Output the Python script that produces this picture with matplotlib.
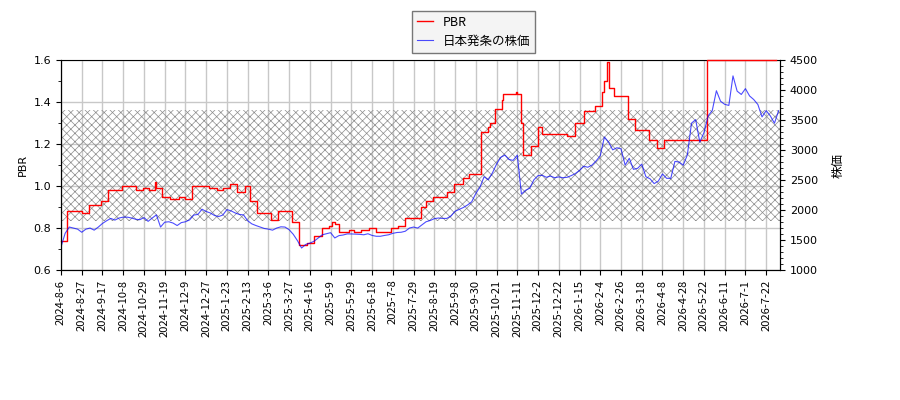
import matplotlib
matplotlib.use("Agg")
import matplotlib.pyplot as plt
from matplotlib.ticker import MultipleLocator
import numpy as np

plt.rcParams['font.family'] = ['DejaVu Sans', 'Noto Sans CJK JP']
plt.rcParams['hatch.linewidth'] = 0.5

# x axis is trading-day index, a label every 15 days
tick_labels = ["2024-8-6", "2024-8-27", "2024-9-17", "2024-10-8", "2024-10-29",
               "2024-11-19", "2024-12-9", "2024-12-27", "2025-1-23", "2025-2-13",
               "2025-3-6", "2025-3-27", "2025-4-16", "2025-5-9", "2025-5-29",
               "2025-6-18", "2025-7-8", "2025-7-29", "2025-8-19", "2025-9-8",
               "2025-9-30", "2025-10-21", "2025-11-11", "2025-12-2", "2025-12-22",
               "2026-1-15", "2026-2-4", "2026-2-26", "2026-3-18", "2026-4-8",
               "2026-4-28", "2026-5-22", "2026-6-11", "2026-7-1", "2026-7-22"]
tick_step = 15
last_day = 520

# stock price, one value every 3 trading days
price_step = 3
price = [1385, 1612, 1717, 1700, 1682, 1630, 1682, 1700, 1665, 1717,
         1777, 1822, 1861, 1833, 1868, 1882, 1882, 1868, 1847, 1840,
         1875, 1812, 1868, 1920, 1717, 1798, 1805, 1784, 1742, 1791,
         1805, 1836, 1917, 1927, 2015, 1976, 1952, 1910, 1892, 1917,
         2008, 1987, 1952, 1927, 1920, 1822, 1770, 1742, 1717, 1693,
         1682, 1665, 1700, 1721, 1717, 1672, 1595, 1490, 1367, 1427,
         1448, 1480, 1535, 1588, 1605, 1623, 1535, 1574, 1584, 1602,
         1602, 1598, 1595, 1588, 1605, 1577, 1563, 1563, 1577, 1588,
         1612, 1626, 1630, 1647, 1700, 1717, 1700, 1752, 1805, 1826,
         1857, 1868, 1861, 1861, 1900, 1980, 2011, 2043, 2085, 2137,
         2277, 2382, 2557, 2505, 2620, 2767, 2880, 2918, 2844, 2830,
         2918, 2267, 2330, 2365, 2505, 2575, 2582, 2547, 2568, 2540,
         2554, 2540, 2547, 2575, 2610, 2662, 2732, 2715, 2750, 2820,
         2907, 3220, 3135, 3005, 3040, 3023, 2750, 2865, 2680, 2697,
         2767, 2557, 2522, 2442, 2484, 2603, 2530, 2530, 2813, 2802,
         2750, 2921, 3450, 3510, 3135, 3292, 3572, 3660, 3992, 3817,
         3765, 3747, 4240, 3985, 3930, 4027, 3905, 3845, 3762, 3555,
         3660, 3572, 3450, 3660]

# PBR, day on which each level starts (last entry = end of series)
pbr_day = [0, 4, 15, 20, 29, 34, 44, 54, 59, 64, 68, 69, 73, 79, 85, 90, 95,
           107, 113, 117, 122, 127, 133, 137, 142, 152, 157, 167, 172, 178, 183,
           189, 194, 196, 198, 201, 208, 212, 217, 223, 228, 239, 244, 249, 260,
           264, 269, 279, 284, 291, 295, 304, 309, 310, 314, 319, 320, 329, 330,
           333, 334, 340, 345, 348, 366, 372, 378, 386, 391, 393, 395, 396, 400,
           410, 415, 425, 431, 436, 467, 517]
pbr = [0.74, 0.88, 0.87, 0.91, 0.93, 0.98, 1.00, 0.98, 0.99, 0.98, 1.02, 0.99,
       0.95, 0.94, 0.95, 0.94, 1.00, 0.99, 0.98, 0.99, 1.01, 0.97, 1.00, 0.93,
       0.87, 0.84, 0.88, 0.83, 0.72, 0.73, 0.76, 0.80, 0.81, 0.83, 0.82, 0.78,
       0.79, 0.78, 0.79, 0.80, 0.78, 0.80, 0.81, 0.85, 0.90, 0.93, 0.95, 0.97,
       1.01, 1.04, 1.06, 1.26, 1.28, 1.30, 1.37, 1.41, 1.44, 1.45, 1.44, 1.30,
       1.15, 1.19, 1.28, 1.25, 1.24, 1.30, 1.36, 1.38, 1.45, 1.50, 1.59, 1.47,
       1.43, 1.32, 1.27, 1.22, 1.18, 1.22, 1.60, 1.60]

# hatched PBR band
band_low = 0.835
band_high = 1.363

fig = plt.figure(figsize=(9, 4), dpi=100)
fig.subplots_adjust(left=61 / 900, right=780 / 900, top=1 - 60.3 / 400, bottom=1 - 270 / 400)
ax = fig.add_subplot(111)
ax2 = ax.twinx()

ax.fill_between([0, last_day], band_low, band_high, facecolor='none',
                edgecolor='#8c8c8c', hatch='xxxx', linewidth=0)
line_pbr, = ax.step(pbr_day, pbr, where='post', color='red', lw=1.0,
                    label='PBR', zorder=3, clip_on=False)
days = np.arange(len(price)) * price_step
line_price, = ax2.plot(days, price, color='blue', alpha=0.7, lw=0.8,
                       label='日本発条の株価')

ax.set_xlim(0, last_day)
ax.set_ylim(0.6, 1.6)
ax2.set_ylim(1000, 4500)
ax.yaxis.set_major_locator(MultipleLocator(0.2))
ax.yaxis.set_minor_locator(MultipleLocator(0.1))
ax2.yaxis.set_major_locator(MultipleLocator(500))
ax2.yaxis.set_minor_locator(MultipleLocator(100))

ax.set_xticks(np.arange(len(tick_labels)) * tick_step)
ax.set_xticklabels(tick_labels, rotation=90, fontsize=8, family=['Noto Sans CJK JP'])
ax.tick_params(axis='y', labelsize=8)
ax2.tick_params(axis='y', labelsize=8)
ax.grid(True, color='#c8c8c8', lw=1.0)
ax.set_axisbelow(True)
ax2.spines['top'].set_visible(False)

ax.set_ylabel('PBR', fontsize=8)
ax2.set_ylabel('株価', fontsize=9, labelpad=10)

leg = fig.legend(handles=[line_pbr, line_price], loc='upper left',
                 bbox_to_anchor=(411.5 / 900, 1 - 10.5 / 400), borderaxespad=0,
                 handlelength=1.3, fancybox=False,
                 prop={'family': ['Noto Sans CJK JP'], 'size': 9})
leg.get_frame().set_facecolor('#f4f4f4')
leg.get_frame().set_edgecolor('#777777')
leg.get_frame().set_alpha(1.0)

fig.savefig('out.png', dpi=100)
